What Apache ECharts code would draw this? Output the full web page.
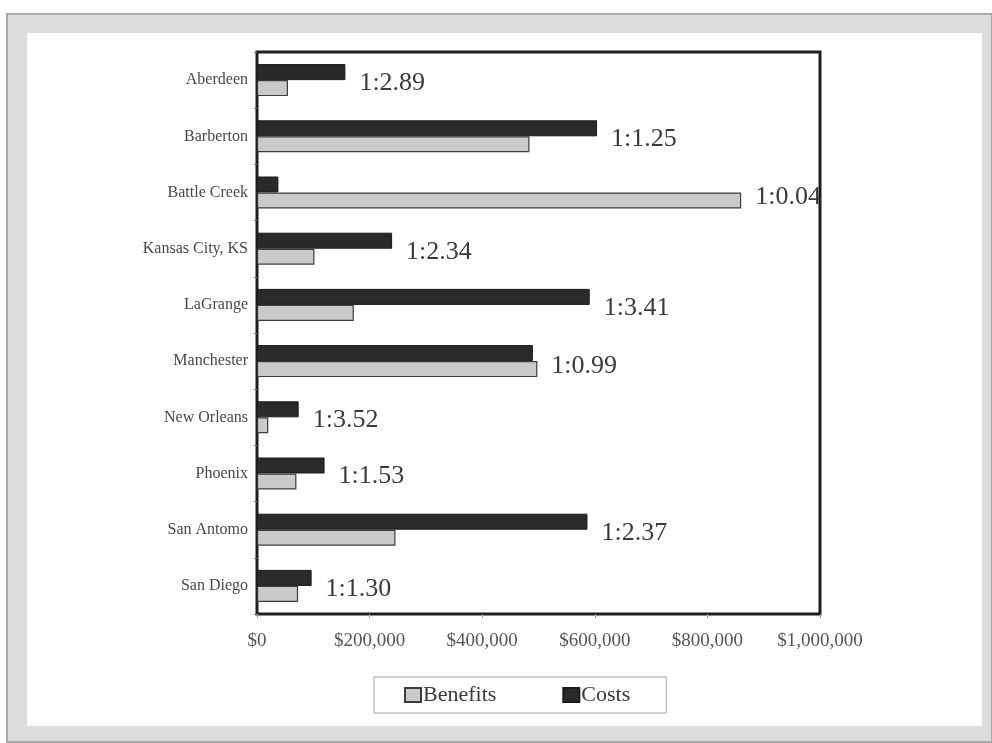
<!DOCTYPE html>
<html>
<head>
<meta charset="utf-8">
<script src="https://cdn.jsdelivr.net/npm/echarts@6/dist/echarts.min.js"></script>
<style>
  html, body { margin: 0; padding: 0; background: #ffffff; }
  #main { width: 992px; height: 743px; }
</style>
</head>
<body>
<div id="main"></div>
<script>
// sites, top to bottom
const sites = ['Aberdeen', 'Barberton', 'Battle Creek', 'Kansas City, KS', 'LaGrange',
  'Manchester', 'New Orleans', 'Phoenix', 'San Antomo', 'San Diego']
// dollars
const benefits = [55000, 484000, 860000, 102000, 172000, 498000, 20000, 70000, 246000, 73000]
const costs = [157000, 604000, 38000, 240000, 591000, 490000, 74000, 120000, 587000, 97000]
const ratios = ['1:2.89', '1:1.25', '1:0.04', '1:2.34', '1:3.41', '1:0.99', '1:3.52', '1:1.53', '1:2.37', '1:1.30']
const xTicks = [0, 200000, 400000, 600000, 800000, 1000000]

const serif = '"Liberation Serif", "Times New Roman", serif'

const chart = echarts.init(document.getElementById('main'))

// ratio text goes after whichever bar is longer, a bit below the middle of the pair
const ratioLabel = (mine, other, dy) => ({
  show: true,
  position: 'right',
  distance: 14,
  offset: [0, dy],
  fontFamily: serif,
  fontSize: 26,
  color: '#3a3a3a',
  formatter: (p) => (mine[p.dataIndex] >= other[p.dataIndex] ? ratios[p.dataIndex] : '')
})

const option = {
  animation: false,
  backgroundColor: '#ffffff',
  graphic: [
    // scanned page border
    { type: 'rect', shape: { x: 7, y: 14, width: 985, height: 728 }, style: { fill: '#dcdcdc', stroke: '#a8a8a8', lineWidth: 2 }, z: -10 },
    { type: 'rect', shape: { x: 27, y: 33, width: 955, height: 693 }, style: { fill: '#ffffff' }, z: -9 }
  ],
  grid: {
    left: 257,
    right: 172,
    top: 52,
    bottom: 129,
    show: true,
    borderColor: '#1e1e1e',
    borderWidth: 3,
    backgroundColor: 'transparent'
  },
  legend: {
    data: ['Benefits', 'Costs'],
    left: 374,
    top: 677,
    orient: 'horizontal',
    icon: 'rect',
    itemWidth: 16,
    itemHeight: 14,
    itemGap: 66,
    padding: [7, 36, 7, 30],
    borderColor: '#a0a0a0',
    borderWidth: 1,
    textStyle: { fontFamily: serif, fontSize: 22, color: '#3a3a3a', padding: [0, 0, 0, -3] }
  },
  xAxis: {
    type: 'value',
    min: 0,
    max: 1000000,
    interval: 200000,
    splitLine: { show: false },
    axisLine: { show: false },
    axisTick: { show: true, length: 4, lineStyle: { color: '#9a9a9a' } },
    axisLabel: {
      margin: 18,
      fontFamily: serif,
      fontSize: 19,
      color: '#555555',
      formatter: (v) => (xTicks.includes(v) ? '$' + v.toLocaleString('en-US') : '')
    }
  },
  yAxis: {
    type: 'category',
    data: sites,
    inverse: true,
    axisLine: { show: false },
    axisTick: { show: true, length: 3, lineStyle: { color: '#777777' } },
    axisLabel: { margin: 9, fontFamily: serif, fontSize: 16, color: '#484848' }
  },
  series: [
    {
      name: 'Costs',
      type: 'bar',
      data: costs,
      barWidth: 16,
      barGap: '0%',
      itemStyle: { color: '#2a2a2a', borderColor: '#1a1a1a', borderWidth: 1 },
      label: ratioLabel(costs, benefits, 11)
    },
    {
      name: 'Benefits',
      type: 'bar',
      data: benefits,
      barWidth: 16,
      barGap: '0%',
      itemStyle: { color: '#cacaca', borderColor: '#3c3c3c', borderWidth: 1.2 },
      label: ratioLabel(benefits, costs, -3)
    }
  ]
}

chart.setOption(option)
</script>
</body>
</html>
